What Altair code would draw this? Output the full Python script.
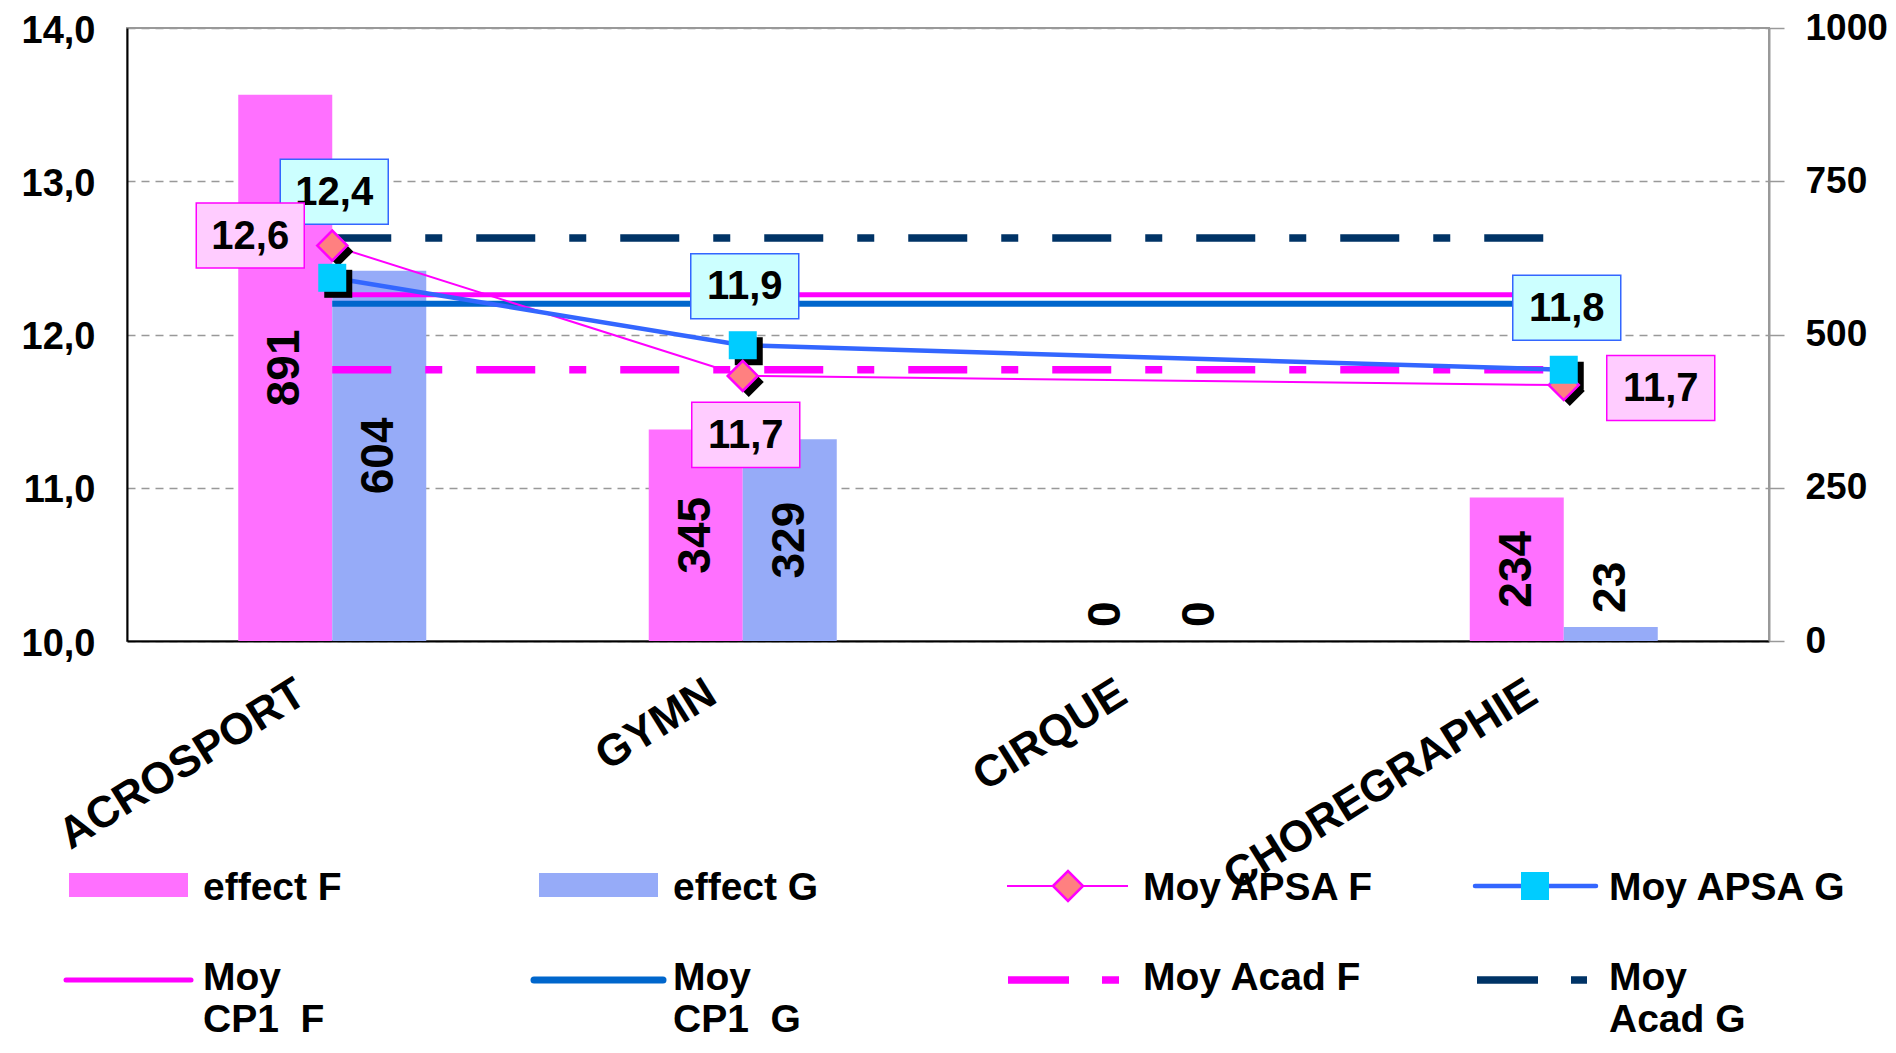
import altair as alt
import pandas as pd

# ---------------- data ----------------
categories = ["ACROSPORT", "GYMN", "CIRQUE", "CHOREGRAPHIE"]
effect_F = [891, 345, 0, 234]
effect_G = [604, 329, 0, 23]
moy_apsa_F = [12.58, 11.73, None, 11.67]
moy_apsa_G = [12.37, 11.93, None, 11.77]
moy_cp1_F = 12.26
moy_cp1_G = 12.20
moy_acad_F = 11.77
moy_acad_G = 12.63
left_ticks = [10, 11, 12, 13, 14]
right_ticks = [0, 250, 500, 750, 1000]
series_bar = ["effect F", "effect G"]

# ---------------- styles ----------------
FONT = "Liberation Sans"
PINK = "#FF70FF"
BLUE_BAR = "#96ABF8"
MAGENTA = "#FF00FF"
BLUE_LINE = "#3366FF"
BLUE_CP1 = "#0066CC"
NAVY = "#003366"
DIAMOND_FILL = "#FF8080"
CYAN = "#00CCFF"
DASH = [59, 34, 17, 34]
W, H = 1642, 613
NB = "\u00a0"

# label box offsets (pixels) per category
off_F = {"ACROSPORT": (-82, -10), "GYMN": (3, 59), "CHOREGRAPHIE": (97, 3)}
off_G = {"ACROSPORT": (2, -86), "GYMN": (2, -59), "CHOREGRAPHIE": (3, -62)}
BOX = "M-1,-0.602L1,-0.602L1,0.602L-1,0.602Z"

x_scale = alt.Scale(type="band", domain=categories, paddingInner=0.542, paddingOuter=0.271)
x_axis = alt.Axis(title=None, labelAngle=-32, labelFontSize=44, labelFont=FONT,
                  labelFontWeight="bold", labelColor="black", ticks=False,
                  domainColor="black", domainWidth=2, labelPadding=30, labelOffset=-42,
                  labelAlign="right", labelBaseline="top", labelLimit=0, labelOverlap=False)


def X():
    return alt.X("cat:N", scale=x_scale, axis=x_axis)


y_eff_scale = alt.Scale(domain=[0, 1000], nice=False, zero=True)
y_eff_axis = alt.Axis(orient="right", title=None, values=right_ticks, format="d", grid=False,
                      tickSize=15, tickColor="#999999", tickWidth=1.5,
                      domainColor="#999999", domainWidth=2, labelFont=FONT,
                      labelFontSize=37, labelFontWeight="bold", labelColor="black",
                      labelPadding=21, labelAlign="left", labelBaseline="middle")


def YE(field):
    return alt.Y(field, type="quantitative", scale=y_eff_scale, axis=y_eff_axis)


y_sc_scale = alt.Scale(domain=[10, 14], nice=False, zero=False)
y_sc_axis = alt.Axis(orient="left", title=None, values=left_ticks, grid=True,
                     gridDash=[8, 6], gridColor="#999999", gridWidth=1.5, ticks=False,
                     domainColor="black", domainWidth=2, labelFont=FONT,
                     labelFontSize=38, labelFontWeight="bold", labelColor="black",
                     labelPadding=32, labelOffset=3,
                     labelExpr="replace(format(datum.value, '.1f'), '.', ',')")


def YS(field):
    return alt.Y(field, type="quantitative", scale=y_sc_scale, axis=y_sc_axis)


# ---------------- bars (right axis) ----------------
bars = pd.DataFrame({
    "cat": categories * 2,
    "series": [series_bar[0]] * len(categories) + [series_bar[1]] * len(categories),
    "value": effect_F + effect_G,
})
xoff = alt.XOffset("series:N", scale=alt.Scale(domain=series_bar, paddingInner=0, paddingOuter=0))

bar_layer = alt.Chart(bars).mark_bar(opacity=1).encode(
    x=X(), xOffset=xoff, y=YE("value"),
    color=alt.Color("series:N", scale=alt.Scale(domain=series_bar, range=[PINK, BLUE_BAR]), legend=None),
)
txt_big = alt.Chart(bars).transform_filter("datum.value >= 100").transform_calculate(
    ly="datum.value / 2").mark_text(
    angle=270, align="center", baseline="middle", font=FONT, fontSize=46,
    fontWeight="bold", color="black").encode(
    x=X(), xOffset=xoff, y=YE("ly"), text=alt.Text("value:Q", format="d"))
txt_small = alt.Chart(bars).transform_filter("datum.value < 100").mark_text(
    angle=270, align="left", baseline="middle", font=FONT, fontSize=46,
    fontWeight="bold", color="black", dx=14).encode(
    x=X(), xOffset=xoff, y=YE("value"), text=alt.Text("value:Q", format="d"))

group_a = alt.layer(bar_layer, txt_big, txt_small)


# ---------------- lines (left axis) ----------------
def const_df(v):
    return pd.DataFrame({"cat": categories, "v": [v] * len(categories)})


cp1F = alt.Chart(const_df(moy_cp1_F)).mark_line(color=MAGENTA, strokeWidth=5, strokeCap="butt").encode(x=X(), y=YS("v"))
cp1G = alt.Chart(const_df(moy_cp1_G)).mark_line(color=BLUE_CP1, strokeWidth=6, strokeCap="butt").encode(x=X(), y=YS("v"))
acadF = alt.Chart(const_df(moy_acad_F)).mark_line(color=MAGENTA, strokeWidth=7.5, strokeDash=DASH, strokeCap="butt").encode(x=X(), y=YS("v"))
acadG = alt.Chart(const_df(moy_acad_G)).mark_line(color=NAVY, strokeWidth=7.5, strokeDash=DASH, strokeCap="butt").encode(x=X(), y=YS("v"))

apsaF_df = pd.DataFrame({"cat": categories, "v": moy_apsa_F})
apsaG_df = pd.DataFrame({"cat": categories, "v": moy_apsa_G})
valid = "isValid(datum.v) && isFinite(datum.v)"

lineF = alt.Chart(apsaF_df).transform_filter(valid).mark_line(color=MAGENTA, strokeWidth=2).encode(x=X(), y=YS("v"))
lineG = alt.Chart(apsaG_df).transform_filter(valid).mark_line(color=BLUE_LINE, strokeWidth=4.5).encode(x=X(), y=YS("v"))
shadF = alt.Chart(apsaF_df).transform_filter(valid).mark_point(
    shape="diamond", filled=True, color="black", size=900, opacity=1, xOffset=6, yOffset=6).encode(x=X(), y=YS("v"))
shadG = alt.Chart(apsaG_df).transform_filter(valid).mark_point(
    shape="square", filled=True, color="black", size=784, opacity=1, xOffset=6, yOffset=6).encode(x=X(), y=YS("v"))
markF = alt.Chart(apsaF_df).transform_filter(valid).mark_point(
    shape="diamond", filled=True, fill=DIAMOND_FILL, stroke=MAGENTA, strokeWidth=2.5,
    size=900, opacity=1).encode(x=X(), y=YS("v"))
markG = alt.Chart(apsaG_df).transform_filter(valid).mark_point(
    shape="square", filled=True, fill=CYAN, strokeWidth=0, size=784, opacity=1).encode(x=X(), y=YS("v"))

label_layers = []
for df, offs, fill, stroke in [(apsaG_df, off_G, "#CCFFFF", BLUE_LINE), (apsaF_df, off_F, "#FFCCFF", MAGENTA)]:
    for cat, (dx, dy) in offs.items():
        base = alt.Chart(df).transform_filter(valid).transform_filter(
            alt.datum.cat == cat).transform_calculate(
            lab="replace(format(datum.v, '.1f'), '.', ',')")
        label_layers.append(base.mark_point(
            shape=BOX, filled=True, fill=fill, stroke=stroke, strokeWidth=1.5,
            size=108 ** 2, opacity=1, xOffset=dx, yOffset=dy).encode(x=X(), y=YS("v")))
        label_layers.append(base.mark_text(
            font=FONT, fontSize=40, fontWeight="bold", color="black", align="center",
            baseline="middle", xOffset=dx, yOffset=dy + 1).encode(x=X(), y=YS("v"), text="lab:N"))

# ---------------- legend (drawn below the plot) ----------------
leg = pd.DataFrame({"k": [0]})
legend_layers = []
# row 1 patches
for x1, x2, col in [(-58, 61, PINK), (412, 531, BLUE_BAR)]:
    legend_layers.append(alt.Chart(leg).mark_rect(color=col, opacity=1).encode(
        x=alt.value(x1), x2=alt.value(x2), y=alt.value(845), y2=alt.value(869)))
# row 1 APSA lines with markers
legend_layers.append(alt.Chart(leg).mark_rule(color=MAGENTA, strokeWidth=2).encode(
    x=alt.value(880), x2=alt.value(1001), y=alt.value(858)))
legend_layers.append(alt.Chart(leg).mark_point(
    shape="diamond", filled=True, fill=DIAMOND_FILL, stroke=MAGENTA, strokeWidth=2.5,
    size=900, opacity=1).encode(x=alt.value(941), y=alt.value(858)))
legend_layers.append(alt.Chart(leg).mark_rule(color=BLUE_LINE, strokeWidth=4.5, strokeCap="round").encode(
    x=alt.value(1348), x2=alt.value(1469), y=alt.value(858)))
legend_layers.append(alt.Chart(leg).mark_point(
    shape="square", filled=True, fill=CYAN, strokeWidth=0, size=784, opacity=1).encode(
    x=alt.value(1408), y=alt.value(858)))
# row 2 lines
legend_layers.append(alt.Chart(leg).mark_rule(color=MAGENTA, strokeWidth=5, strokeCap="round").encode(
    x=alt.value(-61), x2=alt.value(64), y=alt.value(952)))
legend_layers.append(alt.Chart(leg).mark_rule(color=BLUE_CP1, strokeWidth=7, strokeCap="round").encode(
    x=alt.value(407), x2=alt.value(536), y=alt.value(952)))
legend_layers.append(alt.Chart(leg).mark_rule(color=MAGENTA, strokeWidth=7.5, strokeDash=[61, 33, 17, 40]).encode(
    x=alt.value(881), x2=alt.value(992), y=alt.value(952)))
legend_layers.append(alt.Chart(leg).mark_rule(color=NAVY, strokeWidth=7.5, strokeDash=[61, 33, 17, 40]).encode(
    x=alt.value(1350), x2=alt.value(1460), y=alt.value(952)))
# legend texts
legend_texts = [
    ("effect F", 76, 841), ("effect G", 546, 841),
    ("Moy APSA F", 1016, 841), ("Moy APSA G", 1482, 841),
    ("Moy\nCP1" + NB + NB + "F", 76, 931), ("Moy\nCP1" + NB + NB + "G", 546, 931),
    ("Moy Acad F", 1016, 931), ("Moy\nAcad G", 1482, 931),
]
for t, x, y in legend_texts:
    legend_layers.append(alt.Chart(pd.DataFrame({"t": [t]})).mark_text(
        font=FONT, fontSize=39, fontWeight="bold", color="black", align="left",
        baseline="top", lineBreak="\n", lineHeight=42).encode(
        x=alt.value(x), y=alt.value(y), text="t:N"))

group_b = alt.layer(cp1F, cp1G, acadF, acadG, lineF, lineG, shadF, shadG, markF, markG,
                    *label_layers, *legend_layers)

chart = alt.layer(group_a, group_b).resolve_scale(y="independent").properties(
    width=W, height=H,
    autosize=alt.AutoSizeParams(type="none"),
    padding={"left": 119, "top": 20, "right": 119, "bottom": 404},
    background="white",
).configure_view(stroke="#999999", strokeWidth=2)

chart.save("out.html", embed_options={"renderer": "svg", "actions": False})
